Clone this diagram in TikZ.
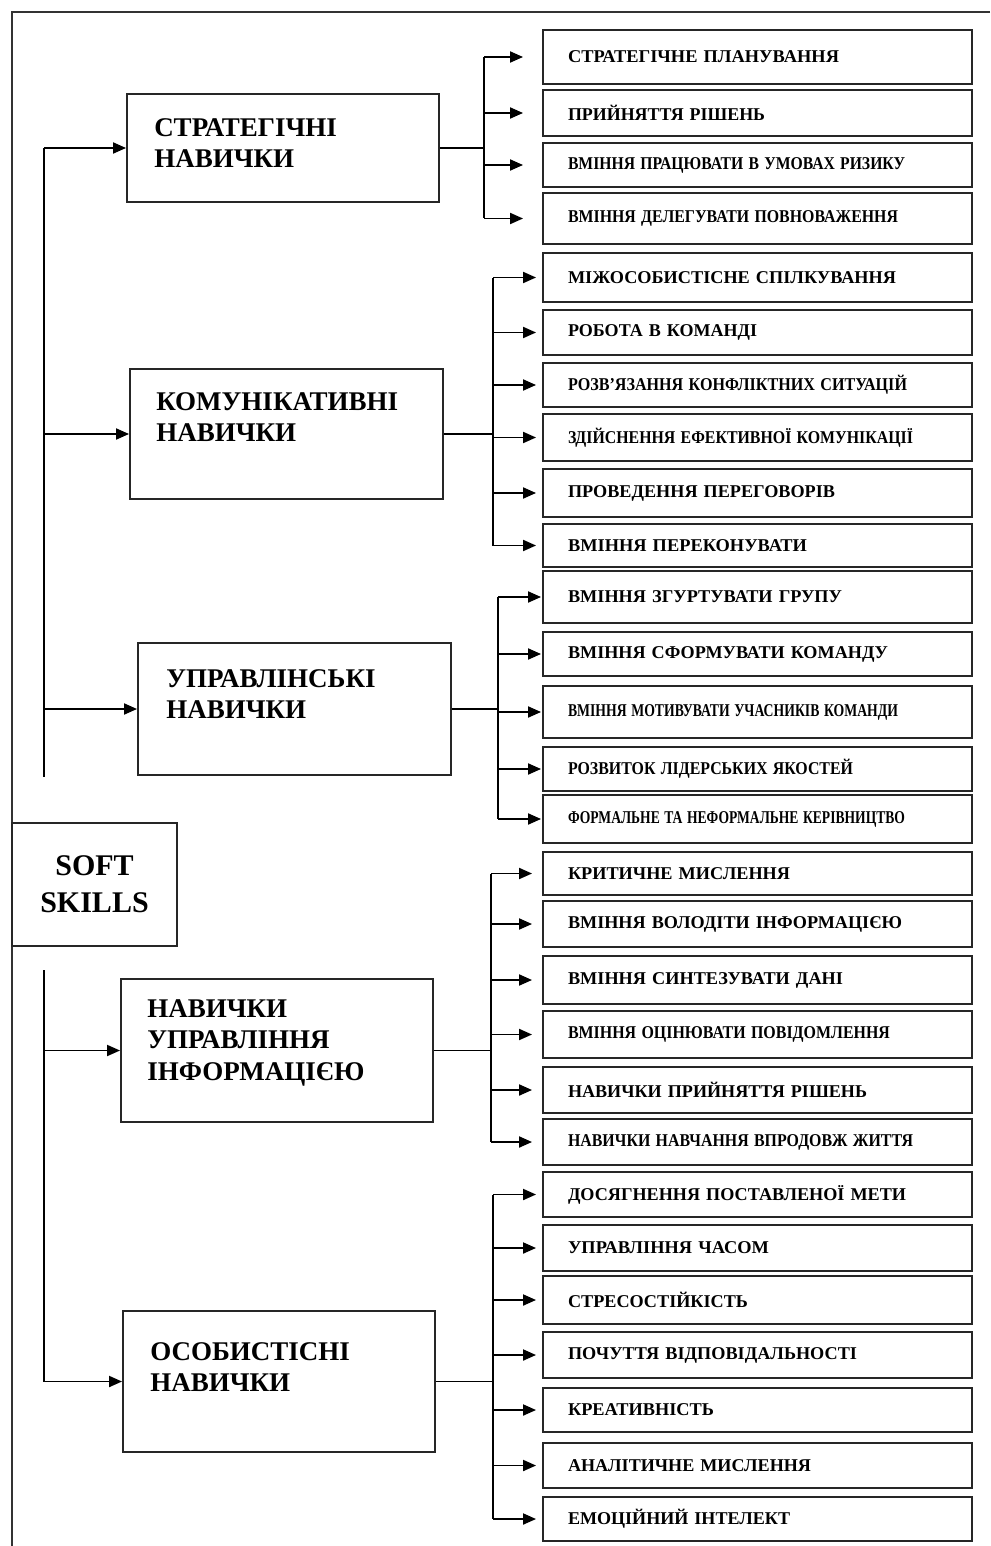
\documentclass[tikz,border=0pt]{standalone}
\usepackage{fontspec}
\setmainfont{Liberation Serif}
\usepackage{graphicx}
\usetikzlibrary{calc}
\usetikzlibrary{arrows.meta, positioning}
\tikzset{>={Triangle[length=13pt,width=11pt]}}
\tikzset{
  catbox/.style={draw=black!85, line width=1.9pt, inner sep=0pt},
  cattext/.style={anchor=north west, inner sep=0pt, align=left,
    font=\bfseries\fontsize{27}{31.5}\selectfont},
  leaf/.style={draw=black!85, line width=1.9pt, minimum width=429pt,
    text width=379pt, inner xsep=25pt, inner ysep=0pt, align=left,
    font=\bfseries\fontsize{18}{20}\selectfont},
  con/.style={line width=1.9pt}
}
\newcommand{\sk}[2]{\resizebox{#1pt}{\height}{#2}}

\begin{document}
\begin{tikzpicture}[x=1pt, y=-1pt]
  \useasboundingbox (0,0) rectangle (990,1546);
  \draw[line width=1.5pt, black!80] (990,12) -- (12,12) -- (12,1546);

  % main boxes
  \node[catbox, minimum width=165pt, minimum height=123pt, align=center,
    font=\bfseries\fontsize{30}{37}\selectfont] (soft) at (94.5,884.5) {SOFT\\SKILLS};
  \node[catbox, minimum width=312pt, minimum height=108pt] (strat) at (283,148) {};
  \node[catbox, minimum width=313pt, minimum height=130pt] (comm) at (286.5,434) {};
  \node[catbox, minimum width=313pt, minimum height=132pt] (manag) at (294.5,709) {};
  \node[catbox, minimum width=312pt, minimum height=143pt] (info) at (277,1050.5) {};
  \node[catbox, minimum width=312pt, minimum height=141pt] (pers) at (279,1381.5) {};
  \node[cattext] (strat-t) at ([shift={(28,25)}]strat.north west) {СТРАТЕГІЧНІ\\НАВИЧКИ};
  \node[cattext] (comm-t) at ([shift={(27,24)}]comm.north west) {КОМУНІКАТИВНІ\\НАВИЧКИ};
  \node[cattext] (manag-t) at ([shift={(29,27)}]manag.north west) {УПРАВЛІНСЬКІ\\НАВИЧКИ};
  \node[cattext] (info-t) at ([shift={(27,21)}]info.north west) {НАВИЧКИ\\УПРАВЛІННЯ\\ІНФОРМАЦІЄЮ};
  \node[cattext] (pers-t) at ([shift={(28,32)}]pers.north west) {ОСОБИСТІСНІ\\НАВИЧКИ};

  % spines on the left
  \coordinate (sp1) at (44,777);
  \coordinate (sp2) at (44,970);
  \draw[con] (strat.west -| sp1) -- (sp1);
  \draw[con,->] (strat.west -| sp1) -- (strat.west);
  \draw[con,->] (comm.west -| sp1) -- (comm.west);
  \draw[con,->] (manag.west -| sp1) -- (manag.west);
  \draw[con,->] (sp2) |- (pers.west);
  \draw[con,->] (info.west -| sp2) -- (info.west);

  % brackets
  \coordinate (b1) at (484,0);
  \coordinate (b2) at (493,0);
  \coordinate (b3) at (498,0);
  \coordinate (b4) at (491,0);
  \coordinate (b5) at (493,0);

  \foreach \nm/\ya/\yb/\w/\txt in {s1/30/84/271/СТРАТЕГІЧНЕ ПЛАНУВАННЯ,
      s2/90/136/197/ПРИЙНЯТТЯ РІШЕНЬ,
      s3/143/187/337/ВМІННЯ ПРАЦЮВАТИ В УМОВАХ РИЗИКУ,
      s4/193/244/330/ВМІННЯ ДЕЛЕГУВАТИ ПОВНОВАЖЕННЯ}{
    \node[leaf, minimum height={\yb-\ya}] (\nm) at (757.5,{(\ya+\yb)/2}) {\sk{\w}{\txt}};
    \draw[con,->,shorten >=19pt] (\nm.west -| b1) -- (\nm.west);
  }
  \draw[con] (b1 |- s1.west) -- (b1 |- s4.west);
  \draw[con] (strat.east) -- (strat.east -| b1);

  \foreach \nm/\ya/\yb/\w/\txt in {c1/253/302/328/МІЖОСОБИСТІСНЕ СПІЛКУВАННЯ,
      c2/310/355/189/РОБОТА В КОМАНДІ,
      c3/363/407/339/РОЗВ’ЯЗАННЯ КОНФЛІКТНИХ СИТУАЦІЙ,
      c4/414/461/345/ЗДІЙСНЕННЯ ЕФЕКТИВНОЇ КОМУНІКАЦІЇ,
      c5/469/517/267/ПРОВЕДЕННЯ ПЕРЕГОВОРІВ,
      c6/524/567/239/ВМІННЯ ПЕРЕКОНУВАТИ}{
    \node[leaf, minimum height={\yb-\ya}] (\nm) at (757.5,{(\ya+\yb)/2}) {\sk{\w}{\txt}};
    \draw[con,->,shorten >=6pt] (\nm.west -| b2) -- (\nm.west);
  }
  \draw[con] (b2 |- c1.west) -- (b2 |- c6.west);
  \draw[con] (comm.east) -- (comm.east -| b2);

  \foreach \nm/\ya/\yb/\w/\txt in {m1/571/623/274/ВМІННЯ ЗГУРТУВАТИ ГРУПУ,
      m2/632/676/320/ВМІННЯ СФОРМУВАТИ КОМАНДУ,
      m3/686/738/330/ВМІННЯ МОТИВУВАТИ УЧАСНИКІВ КОМАНДИ,
      m4/747/791/285/РОЗВИТОК ЛІДЕРСЬКИХ ЯКОСТЕЙ,
      m5/795/843/337/ФОРМАЛЬНЕ ТА НЕФОРМАЛЬНЕ КЕРІВНИЦТВО}{
    \node[leaf, minimum height={\yb-\ya}] (\nm) at (757.5,{(\ya+\yb)/2}) {\sk{\w}{\txt}};
    \draw[con,->,shorten >=1pt] (\nm.west -| b3) -- (\nm.west);
  }
  \draw[con] (b3 |- m1.west) -- (b3 |- m5.west);
  \draw[con] (manag.east) -- (manag.east -| b3);

  \foreach \nm/\ya/\yb/\w/\txt in {i1/852/895/222/КРИТИЧНЕ МИСЛЕННЯ,
      i2/901/947/334/ВМІННЯ ВОЛОДІТИ ІНФОРМАЦІЄЮ,
      i3/956/1004/275/ВМІННЯ СИНТЕЗУВАТИ ДАНІ,
      i4/1011/1058/322/ВМІННЯ ОЦІНЮВАТИ ПОВІДОМЛЕННЯ,
      i5/1067/1113/299/НАВИЧКИ ПРИЙНЯТТЯ РІШЕНЬ,
      i6/1119/1165/345/НАВИЧКИ НАВЧАННЯ ВПРОДОВЖ ЖИТТЯ}{
    \node[leaf, minimum height={\yb-\ya}] (\nm) at (757.5,{(\ya+\yb)/2}) {\sk{\w}{\txt}};
    \draw[con,->,shorten >=10pt] (\nm.west -| b4) -- (\nm.west);
  }
  \draw[con] (b4 |- i1.west) -- (b4 |- i6.west);
  \draw[con] (info.east) -- (info.east -| b4);

  \foreach \nm/\ya/\yb/\w/\txt in {p1/1172/1217/338/ДОСЯГНЕННЯ ПОСТАВЛЕНОЇ МЕТИ,
      p2/1225/1271/201/УПРАВЛІННЯ ЧАСОМ,
      p3/1276/1324/180/СТРЕСОСТІЙКІСТЬ,
      p4/1332/1378/289/ПОЧУТТЯ ВІДПОВІДАЛЬНОСТІ,
      p5/1388/1432/146/КРЕАТИВНІСТЬ,
      p6/1443/1488/243/АНАЛІТИЧНЕ МИСЛЕННЯ,
      p7/1497/1541/222/ЕМОЦІЙНИЙ ІНТЕЛЕКТ}{
    \node[leaf, minimum height={\yb-\ya}] (\nm) at (757.5,{(\ya+\yb)/2}) {\sk{\w}{\txt}};
    \draw[con,->,shorten >=6pt] (\nm.west -| b5) -- (\nm.west);
  }
  \draw[con] (b5 |- p1.west) -- (b5 |- p7.west);
  \draw[con] (pers.east) -- (pers.east -| b5);
\end{tikzpicture}
\end{document}
